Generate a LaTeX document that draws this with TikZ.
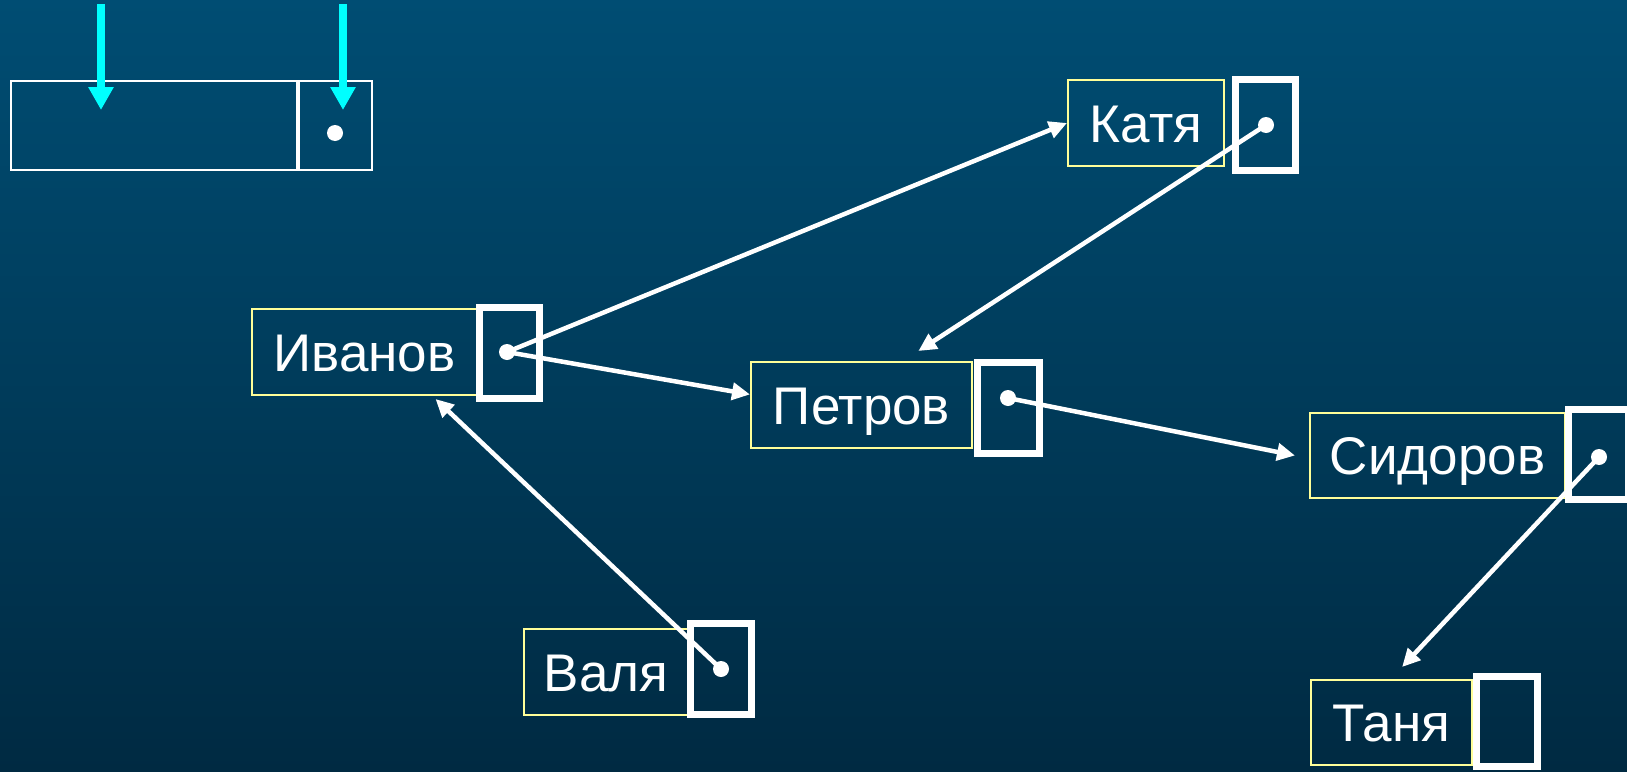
\documentclass[tikz,border=0pt]{standalone}
\usepackage{fontspec}
\setmainfont{Liberation Sans}
\usetikzlibrary{arrows.meta,calc}
\definecolor{bgtop}{HTML}{004D73}
\definecolor{bgbot}{HTML}{002A42}
\definecolor{yline}{HTML}{FFFF99}
\definecolor{cyanc}{HTML}{00FFFF}
\begin{document}
\begin{tikzpicture}[x=1pt,y=-1pt,
  namebox/.style={draw=yline, line width=2pt, minimum width=#1, minimum height=86pt,
    inner sep=0pt, text height=38pt, text depth=0pt, text=white,
    font=\fontsize{53}{60}\selectfont},
  ptrbox/.style={draw=white, line width=7pt, minimum width=60pt, minimum height=91pt, inner sep=0pt},
  headbox/.style={draw=white, line width=2pt, minimum height=89pt, inner sep=0pt},
  dotc/.style={circle, fill=white, minimum size=16pt, inner sep=0pt},
  link/.style={draw=white, line width=4.5pt, -{Triangle[length=18pt,width=17pt]}},
  cyanarrow/.style={draw=cyanc, line width=8pt, -{Triangle[length=23pt,width=24pt]}}]
\useasboundingbox (0,0) rectangle (1627,771);
\shade[top color=bgtop, bottom color=bgbot] (0,0) rectangle (1627,771);

% head structure
\node[headbox, minimum width=286pt] (headl) at (154,125.5) {};
\node[headbox, minimum width=73pt] (headr) at (335.5,125.5) {};
\node[dotc] (hdot) at (335,133) {};
\coordinate (c1s) at (101,4);
\coordinate (c1e) at (101,110);
\coordinate (c2s) at (343,4);
\coordinate (c2e) at (343,110);
\draw[cyanarrow] (c1s) -- (c1e);
\draw[cyanarrow] (c2s) -- (c2e);

% elements
\node[namebox=225pt] (ivanov) at (364.5,352) {Иванов};
\node[ptrbox] (ivanovp) at (509.5,352.5) {};
\node[namebox=156pt] (katya) at (1146,123) {Катя};
\node[ptrbox] (katyap) at (1265.5,125) {};
\node[namebox=221pt] (petrov) at (861.5,405) {Петров};
\node[ptrbox, minimum width=62pt] (petrovp) at (1008.5,408) {};
\node[namebox=255pt, minimum height=85pt] (sidorov) at (1437.5,455.5) {Сидоров};
\node[ptrbox, minimum height=90pt] (sidorovp) at (1598.5,454.5) {};
\node[namebox=161pt, minimum height=85pt] (tanya) at (1391.5,722.5) {Таня};
\node[ptrbox, minimum width=61pt, minimum height=90pt] (tanyap) at (1507,721.5) {};
\node[namebox=164pt] (valya) at (606,672) {Валя};
\node[ptrbox, minimum width=61pt] (valyap) at (721,669) {};

% links
\draw[link] (507,352) coordinate (ivdot) -- (katya.west);
\draw[link] (ivdot) -- ($(petrov.north west)!0.38!(petrov.south west)$);
\draw[link] (1266,125) coordinate (kdot) -- ($(petrov.north west)!0.755!(petrov.north east)+(0,-10)$);
\draw[link] (1008,398) coordinate (pdot) -- ($(sidorov.west)+(-14,0)$);
\draw[link] (1599,457) coordinate (sdot) -- ($(tanya.north west)!0.565!(tanya.north east)+(0,-12)$);
\draw[link] (721,669) coordinate (vdot) -- ($(ivanov.south west)!0.813!(ivanov.south east)+(0,3)$);

% dots
\node[dotc] at (ivdot) {};
\node[dotc] at (kdot) {};
\node[dotc] at (pdot) {};
\node[dotc] at (sdot) {};
\node[dotc] at (vdot) {};
\end{tikzpicture}
\end{document}
